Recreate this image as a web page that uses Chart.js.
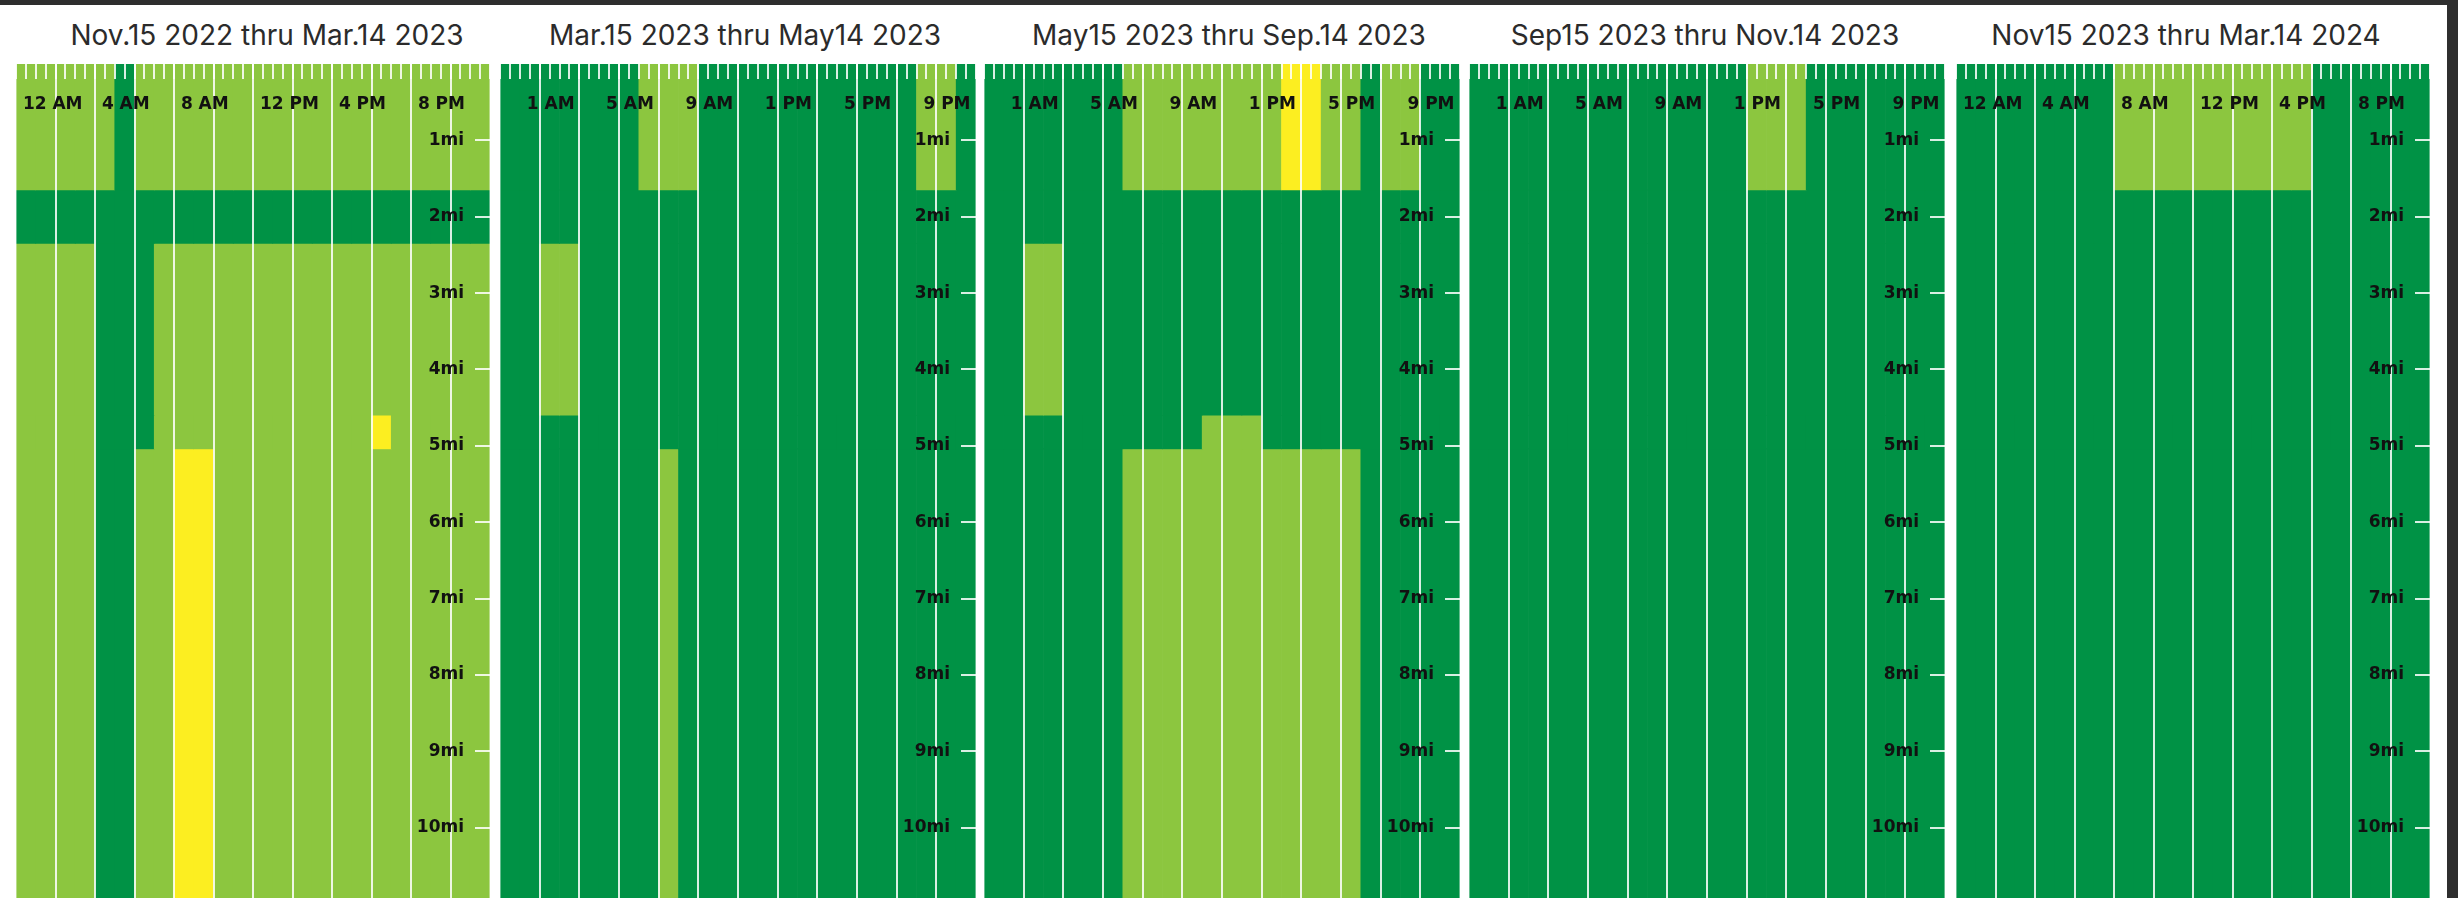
<!DOCTYPE html>
<html>
<head>
<meta charset="utf-8">
<script src="https://cdn.jsdelivr.net/npm/chart.js@4.4.1/dist/chart.umd.min.js"></script>
<style>
html,body{margin:0;padding:0;background:#fff;width:2458px;height:898px;overflow:hidden;position:relative}
.topbar{position:absolute;left:0;top:0;width:2458px;height:5px;background:#2e2e2e}
.rightbar{position:absolute;left:2447px;top:0;width:11px;height:898px;background:#2e2e2e}
.title{position:absolute;top:16px;width:600px;height:38px;line-height:38px;text-align:center;font-family:Inter,'Open Sans',sans-serif;font-size:28px;color:#2b2b2b;white-space:nowrap}
canvas{position:absolute;top:64px}
</style>
</head>
<body>
<div class="topbar"></div>
<div class="rightbar"></div>
<script>
// ---------- data ----------
const hours = [0,1,2,3,4,5,6,7,8,9,10,11,12,13,14,15,16,17,18,19,20,21,22,23];
const rowEdgesMi = [0, 1.65, 2.35, 4.6, 5.04, 11];
const mileTicks = [1,2,3,4,5,6,7,8,9,10];
const mileLabels = ['1mi','2mi','3mi','4mi','5mi','6mi','7mi','8mi','9mi','10mi'];
const labelHoursEven = [0,4,8,12,16,20];
const labelTextsEven = ['12 AM','4 AM','8 AM','12 PM','4 PM','8 PM'];
const labelHoursOdd = [1,5,9,13,17,21];
const labelTextsOdd = ['1 AM','5 AM','9 AM','1 PM','5 PM','9 PM'];
const panelTitles = ['Nov.15 2022 thru Mar.14 2023','Mar.15 2023 thru May14 2023','May15 2023 thru Sep.14 2023','Sep15 2023 thru Nov.14 2023','Nov15 2023 thru Mar.14 2024'];
// level per hour (0 = dark green, 1 = light green, 2 = yellow), one string per distance band
const levelsNov22 = [
  '111110111111111111111111',
  '000000000000000000000000',
  '111100011111111111111111',
  '111100011111111111211111',
  '111100112211111111111111'];
const levelsMar23 = [
  '000000011100000000000110',
  '000000000000000000000000',
  '001100000000000000000000',
  '000000000000000000000000',
  '000000001000000000000000'];
const levelsMay23 = [
  '000000011111111221101100',
  '000000000000000000000000',
  '001100000000000000000000',
  '000000000001110000000000',
  '000000011111111111100000'];
const levelsSep23 = [
  '000000000000001110000000',
  '000000000000000000000000',
  '000000000000000000000000',
  '000000000000000000000000',
  '000000000000000000000000'];
const levelsNov23 = [
  '000000001111111111000000',
  '000000000000000000000000',
  '000000000000000000000000',
  '000000000000000000000000',
  '000000000000000000000000'];

// ---------- style / layout ----------
const levelColors = ['#009245', '#8CC63F', '#FCEE21'];
const gridWhite = 'rgba(255,255,255,0.85)';
const tickFont = {family: 'DejaVu Sans', weight: 'bold', size: 17};
const panels = [
  {left: 16,   width: 474, titleCenter: 267, levels: levelsNov22, lh: labelHoursEven, lt: labelTextsEven},
  {left: 500,  width: 476, titleCenter: 745, levels: levelsMar23, lh: labelHoursOdd,  lt: labelTextsOdd},
  {left: 984,  width: 476, titleCenter: 1229, levels: levelsMay23, lh: labelHoursOdd, lt: labelTextsOdd},
  {left: 1469, width: 476, titleCenter: 1705, levels: levelsSep23, lh: labelHoursOdd, lt: labelTextsOdd},
  {left: 1956, width: 474, titleCenter: 2186, levels: levelsNov23, lh: labelHoursEven, lt: labelTextsEven}
];

function noPad(s) {
  s.paddingLeft = 0; s.paddingRight = 0; s.paddingTop = 0; s.paddingBottom = 0;
}

panels.forEach((p, i) => {
  const t = document.createElement('div');
  t.className = 'title';
  t.style.left = (p.titleCenter - 300) + 'px';
  t.textContent = panelTitles[i];
  document.body.appendChild(t);

  const c = document.createElement('canvas');
  c.width = p.width; c.height = 840;
  c.style.left = p.left + 'px';
  c.style.width = p.width + 'px'; c.style.height = '840px';
  document.body.appendChild(c);

  const datasets = p.levels.map((row, r) => ({
    data: hours.map(h => ({x: h + 0.5, y: [rowEdgesMi[r], rowEdgesMi[r + 1]]})),
    backgroundColor: hours.map(h => levelColors[Number(row[h])]),
    borderWidth: 0,
    grouped: false,
    barPercentage: 1,
    categoryPercentage: 1,
    xAxisID: 'x',
    yAxisID: 'y'
  }));

  new Chart(c.getContext('2d'), {
    type: 'bar',
    data: {datasets},
    options: {
      responsive: false,
      maintainAspectRatio: false,
      animation: false,
      devicePixelRatio: 1,
      layout: {padding: 0, autoPadding: false},
      plugins: {legend: {display: false}, tooltip: {enabled: false}, title: {display: false}},
      scales: {
        x: {
          type: 'linear', axis: 'x', position: 'top', min: 0, max: 24, offset: false,
          ticks: {display: false, stepSize: 2, z: 1},
          grid: {
            offset: false, drawTicks: false, lineWidth: 2, z: 1,
            color: ctx => (ctx.tick && (ctx.tick.value === 0 || ctx.tick.value === 24)) ? 'rgba(255,255,255,0.4)' : gridWhite
          },
          border: {display: false, z: 1},
          afterFit: s => { s.height = 0; noPad(s); }
        },
        xt: {
          type: 'linear', axis: 'x', position: 'top', min: 0, max: 24, offset: false,
          ticks: {
            stepSize: 0.5, autoSkip: false, maxRotation: 0, minRotation: 0, z: 3,
            mirror: true, padding: 30, align: 'start', labelOffset: -3,
            font: tickFont, color: '#111',
            callback: v => { const k = p.lh.indexOf(v - 0.5); return k >= 0 ? p.lt[k] : ''; }
          },
          grid: {offset: false, drawOnChartArea: false, drawTicks: true, tickLength: -15, lineWidth: 2, color: gridWhite, z: 2},
          border: {display: false, z: 2},
          afterFit: s => { s.height = 0; noPad(s); }
        },
        y: {
          type: 'linear', position: 'right', reverse: true, min: 0, max: 11,
          afterBuildTicks: s => { s.ticks = mileTicks.map(v => ({value: v})); },
          ticks: {
            mirror: true, padding: -26, font: tickFont, color: '#111', z: 3,
            callback: v => mileLabels[mileTicks.indexOf(v)]
          },
          grid: {drawOnChartArea: false, drawTicks: true, tickLength: -15, lineWidth: 2, color: gridWhite, z: 2},
          border: {display: true, dash: [4, 3], color: 'rgba(255,255,255,0.7)', width: 1, z: 2},
          afterFit: s => { s.width = 0; noPad(s); }
        }
      }
    }
  });
});
</script>
</body>
</html>
